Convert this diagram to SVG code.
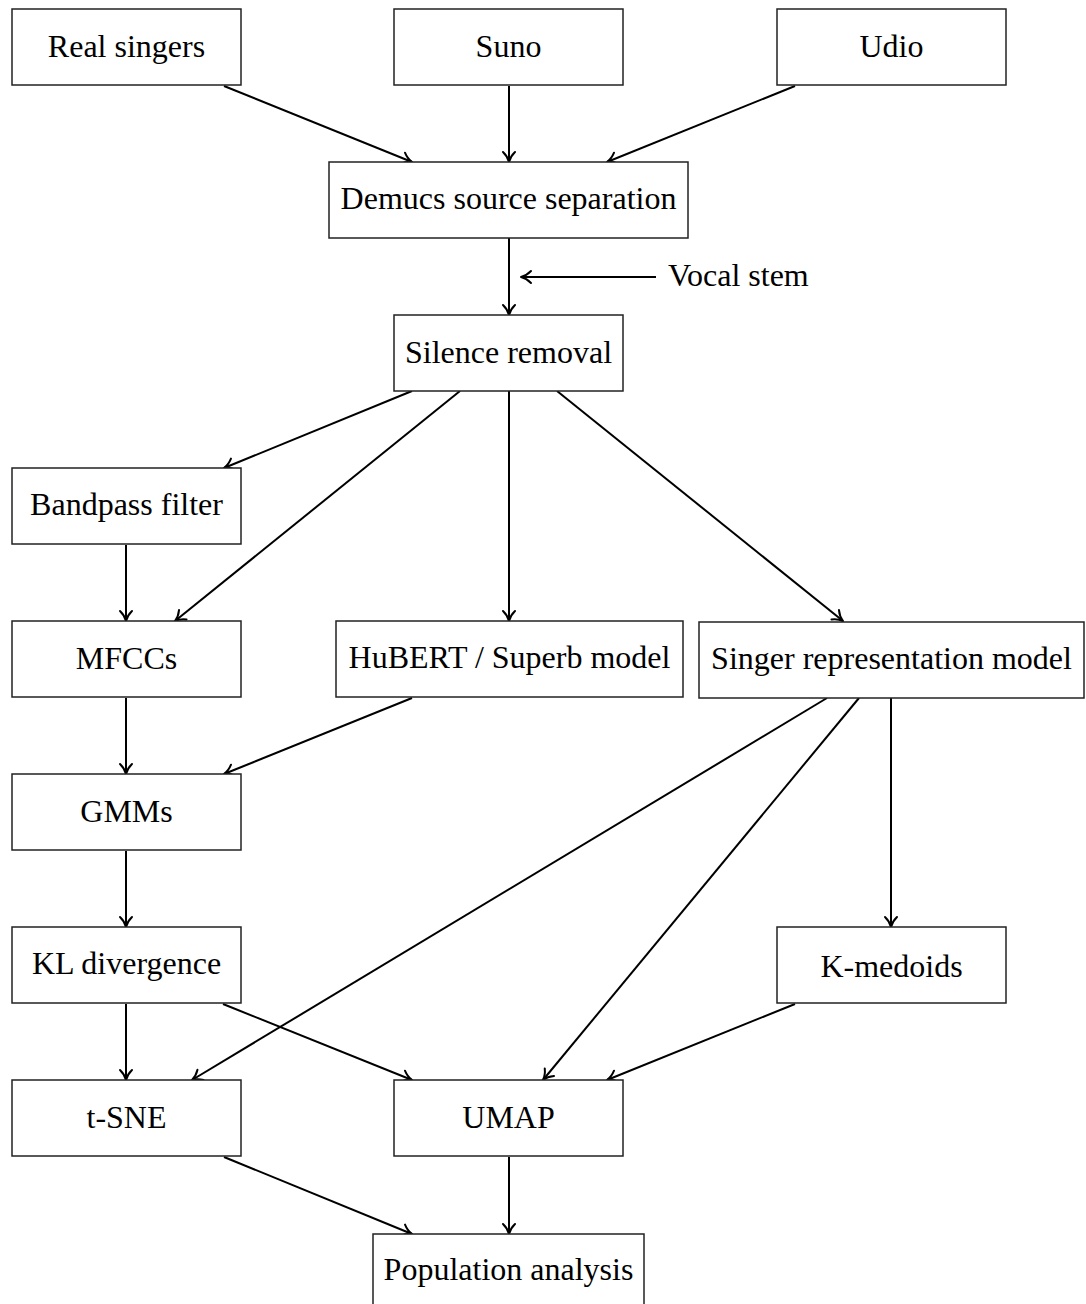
<svg xmlns="http://www.w3.org/2000/svg" width="1086" height="1304" viewBox="0 0 1086 1304">
<style>
.box{fill:#fff;stroke:#222;stroke-width:1.5}
.lbl{font-family:"Liberation Serif","Times New Roman",serif;font-size:32px;fill:#000;text-anchor:middle}
.edge{stroke:#000;stroke-width:2;fill:none;marker-end:url(#ah)}
</style>
<defs>
<marker id="ah" markerUnits="userSpaceOnUse" markerWidth="16" markerHeight="16" viewBox="-13 -8 16 16" refX="0" refY="0" orient="auto">
<path d="M-10,-6 C-6.5,-2.4 -3,-0.7 0,0 C-3,0.7 -6.5,2.4 -10,6" fill="none" stroke="#000" stroke-width="2" stroke-linecap="round" stroke-linejoin="round"/>
</marker>
</defs>
<rect width="1086" height="1304" fill="#fff"/>
<g id="connectors">
<line class="edge" x1="224" y1="86" x2="412" y2="162"/>
<line class="edge" x1="509" y1="86" x2="509" y2="162"/>
<line class="edge" x1="795" y1="86" x2="607" y2="162"/>
<line class="edge" x1="509" y1="238" x2="509" y2="315"/>
<line class="edge" x1="656" y1="277" x2="521" y2="277"/>
<line class="edge" x1="412" y1="391" x2="224" y2="468"/>
<line class="edge" x1="460" y1="391" x2="175" y2="621"/>
<line class="edge" x1="509" y1="391" x2="509" y2="621"/>
<line class="edge" x1="557" y1="391" x2="843" y2="621"/>
<line class="edge" x1="126" y1="545" x2="126" y2="621"/>
<line class="edge" x1="126" y1="698" x2="126" y2="774"/>
<line class="edge" x1="412" y1="698" x2="224" y2="774"/>
<line class="edge" x1="827" y1="698" x2="192" y2="1080"/>
<line class="edge" x1="859" y1="698" x2="543" y2="1080"/>
<line class="edge" x1="891" y1="698" x2="891" y2="927"/>
<line class="edge" x1="126" y1="851" x2="126" y2="927"/>
<line class="edge" x1="126" y1="1004" x2="126" y2="1080"/>
<line class="edge" x1="223" y1="1004" x2="412" y2="1080"/>
<line class="edge" x1="795" y1="1004" x2="607" y2="1080"/>
<line class="edge" x1="224" y1="1157" x2="412" y2="1234"/>
<line class="edge" x1="509" y1="1157" x2="509" y2="1234"/>
</g>
<text class="lbl" x="668" y="286" style="text-anchor:start">Vocal stem</text>
<g id="real_singers"><rect class="box" x="12" y="9" width="229" height="76"/><text class="lbl" x="126.5" y="57">Real singers</text></g>
<g id="suno"><rect class="box" x="394" y="9" width="229" height="76"/><text class="lbl" x="508.5" y="57">Suno</text></g>
<g id="udio"><rect class="box" x="777" y="9" width="229" height="76"/><text class="lbl" x="891.5" y="57">Udio</text></g>
<g id="demucs"><rect class="box" x="329" y="162" width="359" height="76"/><text class="lbl" x="508.5" y="209">Demucs source separation</text></g>
<g id="silence"><rect class="box" x="394" y="315" width="229" height="76"/><text class="lbl" x="508.5" y="363">Silence removal</text></g>
<g id="bandpass"><rect class="box" x="12" y="468" width="229" height="76"/><text class="lbl" x="126.5" y="515">Bandpass filter</text></g>
<g id="mfccs"><rect class="box" x="12" y="621" width="229" height="76"/><text class="lbl" x="126.5" y="669">MFCCs</text></g>
<g id="hubert"><rect class="box" x="336" y="621" width="347" height="76"/><text class="lbl" x="509.5" y="668">HuBERT / Superb model</text></g>
<g id="singer_repr"><rect class="box" x="699" y="622" width="385" height="76"/><text class="lbl" x="891.5" y="669">Singer representation model</text></g>
<g id="gmms"><rect class="box" x="12" y="774" width="229" height="76"/><text class="lbl" x="126.5" y="822">GMMs</text></g>
<g id="kl"><rect class="box" x="12" y="927" width="229" height="76"/><text class="lbl" x="126.5" y="974">KL divergence</text></g>
<g id="kmedoids"><rect class="box" x="777" y="927" width="229" height="76"/><text class="lbl" x="891.5" y="977">K-medoids</text></g>
<g id="tsne"><rect class="box" x="12" y="1080" width="229" height="76"/><text class="lbl" x="126.5" y="1128">t-SNE</text></g>
<g id="umap"><rect class="box" x="394" y="1080" width="229" height="76"/><text class="lbl" x="508.5" y="1128">UMAP</text></g>
<g id="population"><rect class="box" x="373" y="1234" width="271" height="76"/><text class="lbl" x="508.5" y="1280">Population analysis</text></g>
</svg>
